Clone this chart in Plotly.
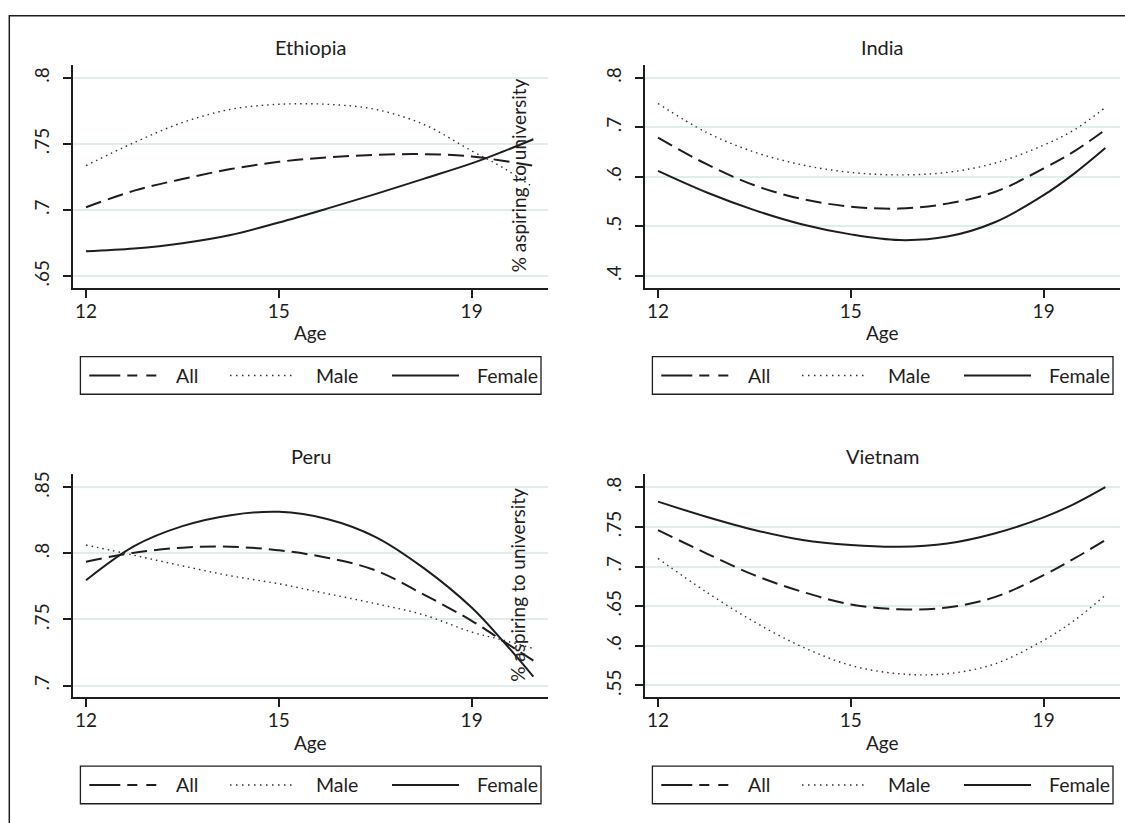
import plotly.graph_objects as go

W, H = 1125, 823

# ---------------- data ----------------
# position along the age axis (in tick steps: 0 -> 12, 1 -> 15, 2 -> 19)
pos = [0, 0.25, 0.5, 0.75, 1.0, 1.25, 1.5, 1.75, 2.0, 2.16, 2.32]
age_tick_pos = [0, 1, 2]
age_tick_labels = ["12", "15", "19"]

countries = ["Ethiopia", "India", "Peru", "Vietnam"]
series_names = ["All", "Male", "Female"]

eth_all = [.702, .7146, .7234, .7309, .7364, .7397, .7417, .7422, .7405, .7372, .7335]
eth_male = [.7335, .751, .7661, .7761, .7799, .7799, .7761, .7648, .7447, .7322, .7171]
eth_female = [.6687, .6708, .6748, .6810, .6905, .7010, .7120, .7235, .7352, .7440, .7535]

ind_all = [.679, .626, .583, .555, .540, .536, .546, .570, .617, .652, .695]
ind_male = [.748, .690, .650, .624, .609, .604, .609, .628, .664, .695, .740]
ind_female = [.612, .569, .533, .504, .484, .4725, .4795, .509, .563, .607, .658]

per_all = [.7937, .8005, .8043, .805, .8023, .7967, .7872, .769, .749, .734, .7189]
per_male = [.8063, .7985, .7905, .783, .777, .7695, .762, .7535, .7405, .7345, .728]
per_female = [.7797, .8055, .8206, .8289, .8314, .826, .8125, .789, .759, .734, .7068]

vnm_all = [.746, .7166, .6891, .668, .6521, .6461, .6483, .6617, .6891, .7102, .7334]
vnm_male = [.7102, .668, .6301, .5985, .5753, .5648, .5648, .5775, .607, .6322, .6638]
vnm_female = [.7818, .7628, .746, .7334, .7271, .7249, .729, .742, .762, .779, .800]

eth_yticks = [.65, .7, .75, .8]
ind_yticks = [.4, .5, .6, .7, .8]
per_yticks = [.7, .75, .8, .85]
vnm_yticks = [.55, .6, .65, .7, .75, .8]

y_title = "% aspiring to university"
x_title = "Age"

# ---------------- styling / layout ----------------
FONT = "Lato, 'Open Sans', sans-serif"
INK = "#1e1e1e"
GRID = "#e1eced"

data_by_country = {
    "Ethiopia": (eth_all, eth_male, eth_female, eth_yticks, [.641, .8098]),
    "India": (ind_all, ind_male, ind_female, ind_yticks, [.3759, .8261]),
    "Peru": (per_all, per_male, per_female, per_yticks, [.691, .8598]),
    "Vietnam": (vnm_all, vnm_male, vnm_female, vnm_yticks, [.5349, .8163]),
}

# pixel offsets of each panel relative to the top-left panel
offsets = {"Ethiopia": (0, 0), "India": (572, 0), "Peru": (0, 411), "Vietnam": (572, 411)}

styles = {
    "All": dict(color=INK, width=2, dash="16px,7px"),
    "Male": dict(color="#333333", width=1.4, dash="1.5px,4px"),
    "Female": dict(color=INK, width=2, dash="solid"),
}
legend_dash = {"All": "31px,7px,10px,9px,10px", "Male": "1.5px,4.5px", "Female": "solid"}


def px(x):
    return x / W


def py(y):
    return 1 - y / H


fig = go.Figure()
shapes = []
annotations = []

for i, c in enumerate(countries):
    n = "" if i == 0 else str(i + 1)
    dx, dy = offsets[c]
    s_all, s_male, s_female, yt, yr = data_by_country[c]
    for name, vals in zip(series_names, [s_all, s_male, s_female]):
        fig.add_trace(go.Scatter(
            x=pos, y=vals, mode="lines", name=name, showlegend=False,
            line=dict(shape="spline", smoothing=1.0, **styles[name]),
            xaxis="x" + n, yaxis="y" + n,
        ))
    x0, x1 = 72.7 + dx, 548 + dx
    y0, y1 = 62 + dy, 286 + dy
    fig.layout["xaxis" + n] = dict(
        domain=[px(x0), px(x1)], anchor="y" + n, range=[-0.069, 2.396],
        tickvals=age_tick_pos, ticktext=age_tick_labels,
        showgrid=False, zeroline=False, showline=True, linecolor=INK, linewidth=1.5,
        ticks="outside", ticklen=8, tickwidth=1.5, tickcolor=INK,
        tickfont=dict(family=FONT, size=19, color=INK), ticklabelstandoff=-3,
    )
    fig.layout["yaxis" + n] = dict(
        domain=[py(y1), py(y0)], anchor="x" + n, range=yr,
        tickvals=yt, ticktext=[("%g" % v).lstrip("0") for v in yt],
        showgrid=True, gridcolor=GRID, gridwidth=2, zeroline=False,
        showline=True, linecolor=INK, linewidth=1.5,
        ticks="outside", ticklen=8, tickwidth=1.5, tickcolor=INK,
        tickangle=-90, tickfont=dict(family=FONT, size=19, color=INK), ticklabelstandoff=6,
    )
    # panel title
    annotations.append(dict(text=c, x=px(310.5 + dx), y=py(44 + dy), xref="paper", yref="paper",
                            showarrow=False, xanchor="center", yanchor="middle",
                            font=dict(family=FONT, size=20, color=INK)))
    # x axis title
    annotations.append(dict(text=x_title, x=px(310.5 + dx), y=py(331 + dy), xref="paper", yref="paper",
                            showarrow=False, xanchor="center", yanchor="middle",
                            font=dict(family=FONT, size=19, color=INK)))
    # legend box
    lx0, lx1, ly0, ly1 = 80.4 + dx, 541 + dx, 355 + dy, 392.7 + dy
    ly = (ly0 + ly1) / 2
    shapes.append(dict(type="rect", xref="paper", yref="paper", x0=px(lx0), x1=px(lx1),
                       y0=py(ly1), y1=py(ly0), line=dict(color=INK, width=1.3)))
    samples = [(89.3, 156.7, 174), (230, 296, 314), (392, 459, 475)]
    for name, (sx0, sx1, tx) in zip(series_names, samples):
        st = styles[name]
        shapes.append(dict(type="line", xref="paper", yref="paper",
                           x0=px(sx0 + dx), x1=px(sx1 + dx), y0=py(ly), y1=py(ly),
                           line=dict(color=st["color"], width=st["width"], dash=legend_dash[name])))
        annotations.append(dict(text=name, x=px(tx + dx), y=py(ly), xref="paper", yref="paper",
                                showarrow=False, xanchor="left", yanchor="middle",
                                font=dict(family=FONT, size=19.5, color=INK)))

# misplaced y-axis titles of the left column
for dy in (0, 411):
    annotations.append(dict(text=y_title, x=px(518), y=py(173 + dy), xref="paper", yref="paper",
                            showarrow=False, textangle=-90, xanchor="center", yanchor="middle",
                            font=dict(family=FONT, size=19, color=INK)))

# outer frame (cut at right and bottom)
shapes.append(dict(type="rect", xref="paper", yref="paper", x0=px(9.3), x1=px(1140),
                   y0=py(840), y1=py(12.7), line=dict(color=INK, width=1.5), layer="below"))

fig.update_layout(
    width=W, height=H, margin=dict(l=0, r=0, t=0, b=0),
    paper_bgcolor="white", plot_bgcolor="white",
    shapes=shapes, annotations=annotations, showlegend=False,
    font=dict(family=FONT, color=INK),
)

fig.write_html("out.html", config={"displayModeBar": False},
               post_script="document.body.style.margin='0';document.body.style.overflow='hidden';")
